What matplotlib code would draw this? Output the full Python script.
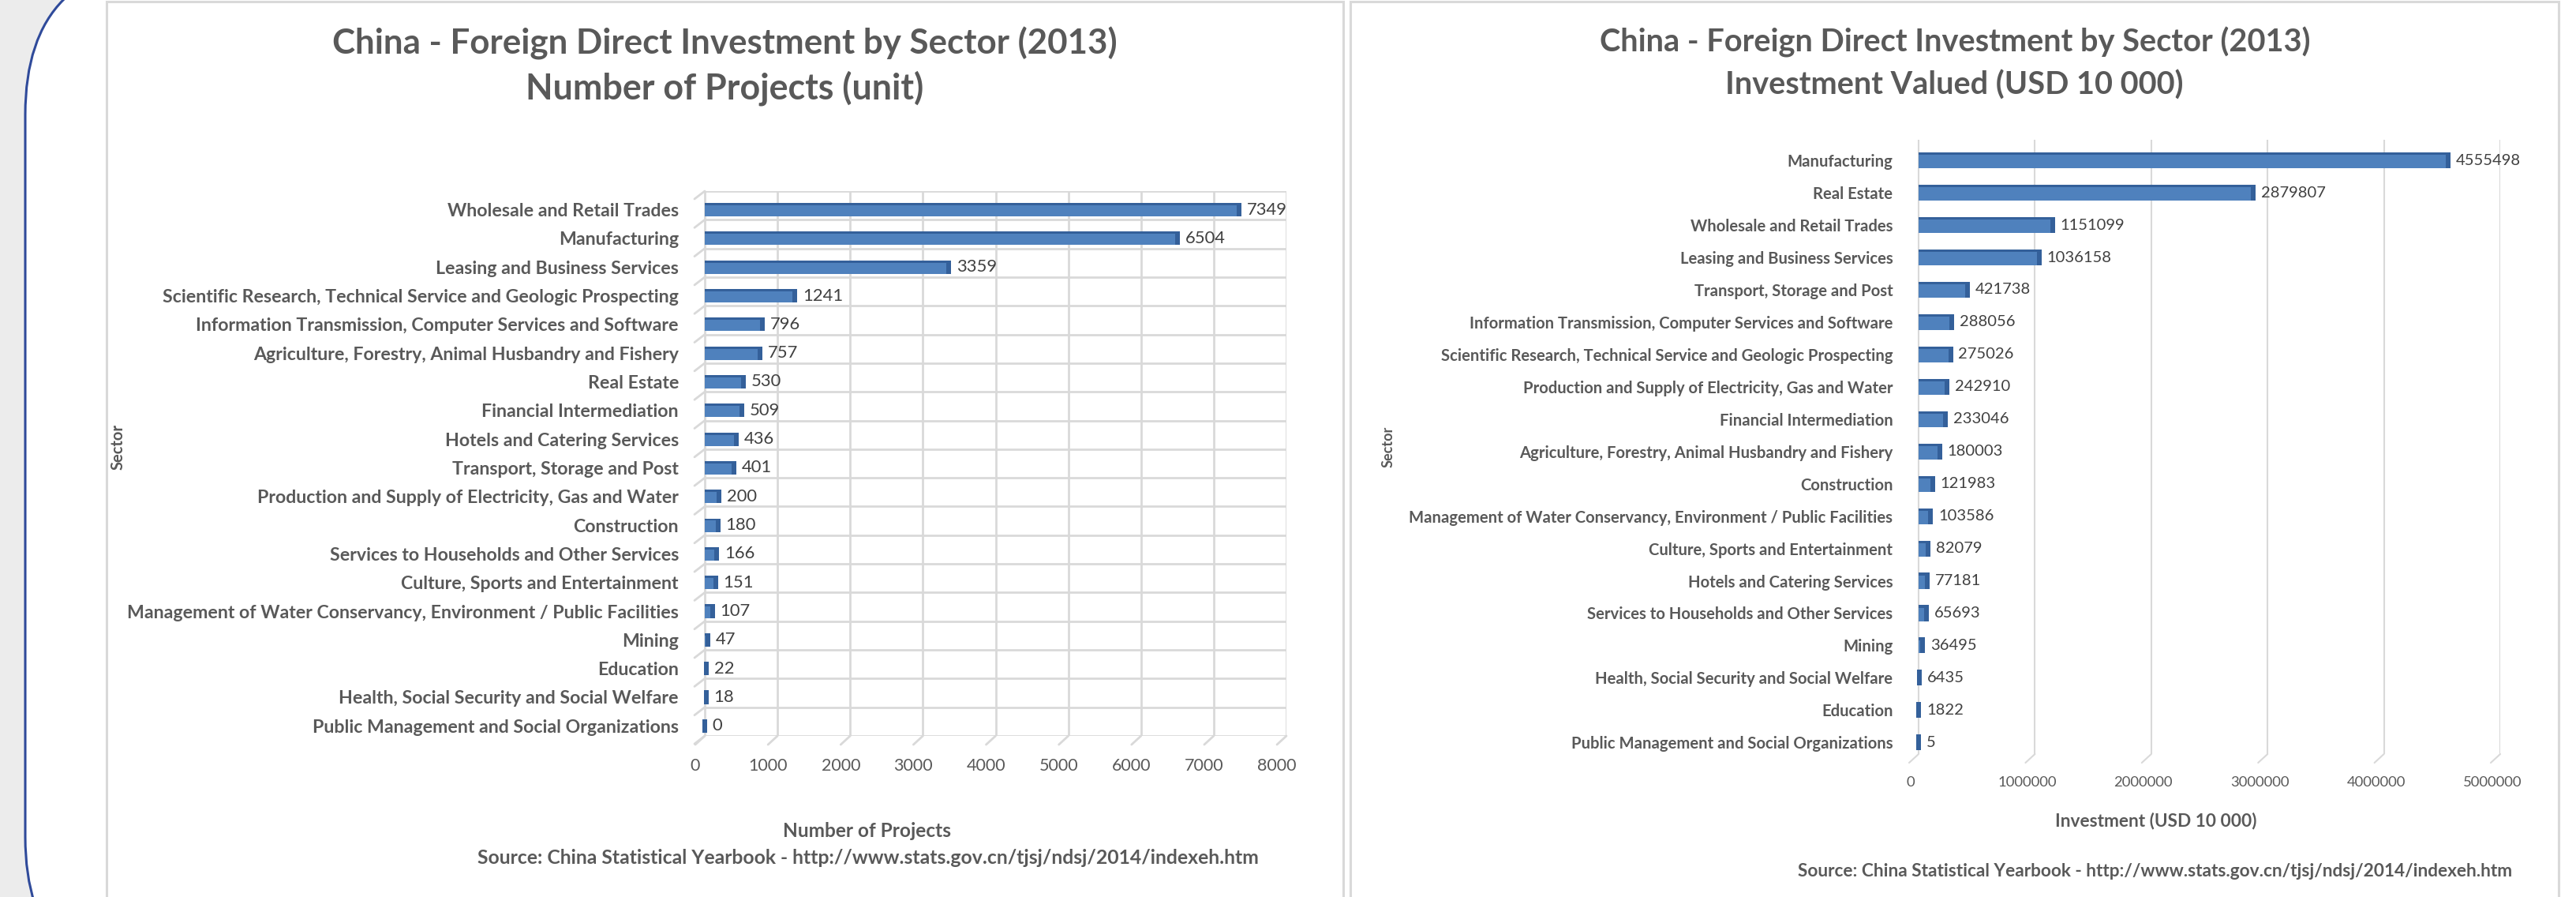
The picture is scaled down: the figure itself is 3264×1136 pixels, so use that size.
import matplotlib
matplotlib.use('Agg')
import matplotlib.pyplot as plt
from matplotlib.patches import FancyBboxPatch, Rectangle
from matplotlib.transforms import ScaledTranslation
import numpy as np

# ---------------- data ----------------
proj_sectors = [
    "Wholesale and Retail Trades",
    "Manufacturing",
    "Leasing and Business Services",
    "Scientific Research, Technical Service and Geologic Prospecting",
    "Information Transmission, Computer Services and Software",
    "Agriculture, Forestry, Animal Husbandry and Fishery",
    "Real Estate",
    "Financial Intermediation",
    "Hotels and Catering Services",
    "Transport, Storage and Post",
    "Production and Supply of Electricity, Gas and Water",
    "Construction",
    "Services to Households and Other Services",
    "Culture, Sports and Entertainment",
    "Management of Water Conservancy, Environment / Public Facilities",
    "Mining",
    "Education",
    "Health, Social Security and Social Welfare",
    "Public Management and Social Organizations",
]
proj_counts = [7349, 6504, 3359, 1241, 796, 757, 530, 509, 436, 401,
               200, 180, 166, 151, 107, 47, 22, 18, 0]
proj_ticks = [0, 1000, 2000, 3000, 4000, 5000, 6000, 7000, 8000]

inv_sectors = [
    "Manufacturing",
    "Real Estate",
    "Wholesale and Retail Trades",
    "Leasing and Business Services",
    "Transport, Storage and Post",
    "Information Transmission, Computer Services and Software",
    "Scientific Research, Technical Service and Geologic Prospecting",
    "Production and Supply of Electricity, Gas and Water",
    "Financial Intermediation",
    "Agriculture, Forestry, Animal Husbandry and Fishery",
    "Construction",
    "Management of Water Conservancy, Environment / Public Facilities",
    "Culture, Sports and Entertainment",
    "Hotels and Catering Services",
    "Services to Households and Other Services",
    "Mining",
    "Health, Social Security and Social Welfare",
    "Education",
    "Public Management and Social Organizations",
]
inv_values = [4555498, 2879807, 1151099, 1036158, 421738, 288056, 275026,
              242910, 233046, 180003, 121983, 103586, 82079, 77181, 65693,
              36495, 6435, 1822, 5]
inv_ticks = [0, 1000000, 2000000, 3000000, 4000000, 5000000]

title_line1 = "China - Foreign Direct Investment by Sector (2013)"
left_title2 = "Number of Projects (unit)"
right_title2 = "Investment Valued (USD 10 000)"
left_xlabel = "Number of Projects"
right_xlabel = "Investment (USD 10 000)"
ylabel = "Sector"
source = "Source: China Statistical Yearbook - http://www.stats.gov.cn/tjsj/ndsj/2014/indexeh.htm"

# ---------------- style ----------------
W, H = 3264, 1136
plt.rcParams['font.family'] = ['Lato', 'DejaVu Sans']
TEXT = '#595959'
VAL = '#404040'
GRID = '#d9d9d9'
BAR = '#4f81bd'
BAR_DARK = '#34609a'

fig = plt.figure(figsize=(W / 100, H / 100), dpi=100, facecolor='#ececec')
renderer = fig.canvas.get_renderer()

# background decoration (figure pixel space, y downward)
bg = fig.add_axes([0, 0, 1, 1])
bg.set_xlim(0, W)
bg.set_ylim(H, 0)
bg.axis('off')
bg.add_patch(FancyBboxPatch((32, -49), 3295, 1303,
                            boxstyle='round,pad=0,rounding_size=194',
                            fc='white', ec='#2f4a9a', lw=2.2))
bg.add_patch(Rectangle((135, 2), 1567, 1200, fc='white', ec='#d9d9d9', lw=2.2))
bg.add_patch(Rectangle((1711, 2), 1531, 1200, fc='white', ec='#d9d9d9', lw=2.2))


def size_for(s, target, weight='normal'):
    t = fig.text(0, 0, s, fontsize=20, fontweight=weight)
    w = t.get_window_extent(renderer).width
    t.remove()
    return 20 * target / w


def ftext(x, y, s, width, weight='bold', color=TEXT, rotation=0):
    fs = size_for(s, width, weight)
    return fig.text(x / W, 1 - y / H, s, ha='center', va='center', color=color,
                    fontsize=fs, fontweight=weight, rotation=rotation)


def px_axes(x0, y0, x1, y1):
    ax = fig.add_axes([x0 / W, 1 - y1 / H, (x1 - x0) / W, (y1 - y0) / H])
    ax.set_facecolor('none')
    for s in ax.spines.values():
        s.set_visible(False)
    return ax


def stub(ax, x, y, dx, dy, lw):
    ax.annotate('', xy=(x, y), xytext=(dx, dy), textcoords='offset pixels',
                arrowprops=dict(arrowstyle='-', color=GRID, lw=lw,
                                shrinkA=0, shrinkB=0), annotation_clip=False)


def draw_chart(ax, sectors, values, ticks, zero_px, end_px, top_off, bar_h,
               depth_px, cat_width, cat_long, val_width, val_sample,
               tick_width, tick_sample, ypad, xpad, xshift, hlines, gl_w):
    n = len(sectors)
    pos = np.arange(n)
    xmax = ticks[-1]
    unit = (end_px - zero_px) / xmax
    ax.set_xlim(-depth_px / unit, xmax)
    ax.set_ylim(n - top_off, -top_off)
    vals = np.array(values, dtype=float)

    bars = ax.barh(pos, vals, height=bar_h, color=BAR, zorder=3)
    ax.barh(pos - bar_h / 2 + 0.04, vals, height=0.08, color=BAR_DARK, zorder=4)
    capw = 6 / unit
    ax.barh(pos, np.full(n, capw), left=vals - capw / 2, height=bar_h,
            color=BAR_DARK, zorder=4, clip_on=False)

    vfs = size_for(val_sample, val_width)
    ax.bar_label(bars, labels=[str(v) for v in values], padding=7,
                 color=VAL, fontsize=vfs, zorder=5)

    ax.set_yticks(pos)
    ax.set_yticklabels(sectors, fontweight='bold', color=TEXT,
                       fontsize=size_for(cat_long, cat_width, 'bold'))
    ax.set_xticks(ticks)
    ax.set_xticklabels([str(t) for t in ticks], color=TEXT,
                       fontsize=size_for(tick_sample, tick_width))
    ax.tick_params(axis='both', length=0)
    ax.tick_params(axis='y', pad=ypad)
    ax.tick_params(axis='x', pad=xpad)
    ax.grid(axis='x', color=GRID, lw=gl_w, zorder=1)
    ax.set_axisbelow(True)
    off = ScaledTranslation(-xshift / 100, 0, fig.dpi_scale_trans)
    for lab in ax.get_xticklabels():
        lab.set_transform(lab.get_transform() + off)

    ybot = n - top_off
    if hlines:
        bounds = np.arange(n + 1) - top_off
        ax.hlines(bounds, 0, xmax, color=GRID, lw=gl_w, zorder=1)
        for b in bounds:
            stub(ax, 0, b, -13, -10, gl_w)
    for t in ticks:
        stub(ax, t, ybot, -12, -11, gl_w)


# ---------------- left chart ----------------
axL = px_axes(885, 242, 1630, 932)
draw_chart(axL, proj_sectors, proj_counts, proj_ticks, 893, 1630, 0.65, 0.47,
           8, 700, "Management of Water Conservancy, Environment / Public Facilities",
           51, "7349", 50, "8000", 18, 20, 12, True, 2.0)

ftext(918, 55, title_line1, 995)
ftext(918, 112, left_title2, 505)
ftext(1099, 1052, left_xlabel, 213)
ftext(1100, 1086, source, 994)
ftext(150, 566, ylabel, 58, rotation=90)

# ---------------- right chart ----------------
axR = px_axes(2422, 177, 3168, 955)
draw_chart(axR, inv_sectors, inv_values, inv_ticks, 2431, 3168, 0.64, 0.49,
           9, 612, "Management of Water Conservancy, Environment / Public Facilities",
           82, "4555498", 75, "1000000", 17, 20, 10, False, 1.5)

ftext(2477, 53, title_line1, 902)
ftext(2476, 108, right_title2, 580)
ftext(2732, 1040, right_xlabel, 255)
ftext(2731, 1103, source, 907)
ftext(1759, 566, ylabel, 52, rotation=90)

fig.savefig('out.png', dpi=100, facecolor=fig.get_facecolor())
